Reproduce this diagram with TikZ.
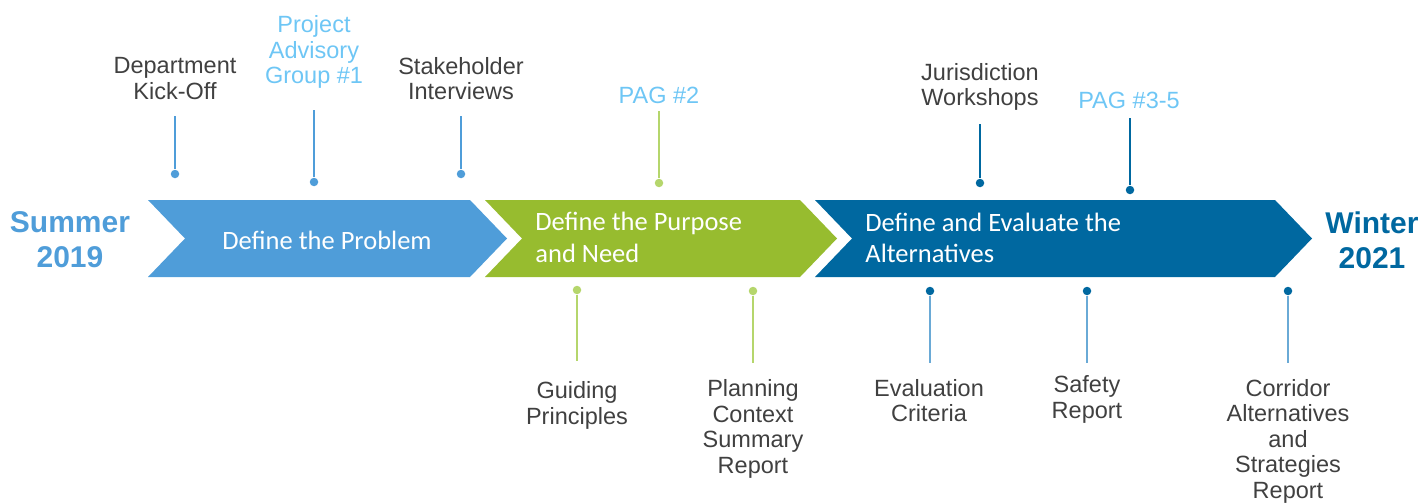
\documentclass[tikz,border=0pt]{standalone}
\usepackage{fontspec}
\setmainfont{Liberation Sans}
\newfontfamily\chevfont{Carlito}
\usepackage{tikz}
\usetikzlibrary{calc}
\usetikzlibrary{positioning}

\definecolor{probblue}{HTML}{4F9DD9}
\definecolor{purpgreen}{HTML}{97BC2F}
\definecolor{altblue}{HTML}{0068A0}
\definecolor{paglight}{HTML}{6EC6F5}
\definecolor{labgray}{HTML}{404040}
\definecolor{stemgreen}{HTML}{B5D66C}
\definecolor{stemblue}{HTML}{6AAAD6}

\begin{document}
\begin{tikzpicture}[x=1pt,y=-1pt,thick]
      \tikzstyle{mstext}=[inner sep=0pt,align=center,text=labgray,font=\fontsize{23.5}{25.5}\selectfont]
      \tikzstyle{pagtext}=[mstext,text=paglight]
      \tikzstyle{chevtext}=[inner sep=0pt,text=white,font=\chevfont\fontsize{26.5}{31.5}\selectfont]
      \tikzstyle{season}=[inner sep=0pt,align=center,font=\bfseries\fontsize{30}{35}\selectfont]
      \tikzstyle{dot}=[circle,inner sep=0pt,minimum size=8.5pt]
      \tikzstyle{stem}=[line width=1.5pt]

      \useasboundingbox (0,0) rectangle (1424,503);

      % phases
      \fill[probblue] (148,200) -- (470,200) -- (507,238.5) -- (470,277) -- (148,277) -- (185,238.5) -- cycle;
      \fill[purpgreen] (485,200) -- (800,200) -- (837,238.5) -- (800,277) -- (485,277) -- (522,238.5) -- cycle;
      \fill[altblue] (815,200) -- (1275,200) -- (1312,238.5) -- (1275,277) -- (815,277) -- (852,238.5) -- cycle;

      \node[chevtext] (prob) at (327,240) {Define the Problem};
      \node[chevtext,align=left,anchor=west] (purp) at (535,237.5) {Define the Purpose\\and Need};
      \node[chevtext,align=left,anchor=west] (alt) at (865,238) {Define and Evaluate the\\Alternatives};

      \node[season,text=probblue] (start) at (70,239.5) {Summer\\2019};
      \node[season,text=altblue] (end) at (1372,240.5) {Winter\\2021};

      % milestones above
      \node[mstext] (dko) at (175,78.5) {Department\\Kick-Off};
      \node[pagtext] (pag1) at (314,52) {Project\\Advisory\\Group \#1};
      \node[mstext] (stk) at (461,78.5) {Stakeholder\\Interviews};
      \node[pagtext] (pag2) at (659,95) {PAG \#2};
      \node[mstext] (jur) at (980,87) {Jurisdiction\\Workshops};
      \node[pagtext] (pag3) at (1129,100) {PAG \#3-5};

      \coordinate (dkoT) at (175,116);
      \coordinate (pag1T) at (314,110);
      \coordinate (stkT) at (461,116);
      \coordinate (pag2T) at (659,111);
      \coordinate (jurT) at (980,124);
      \coordinate (pag3T) at (1130,118);

      \node[dot,fill=probblue] (dkoD) at (175,174) {};
      \node[dot,fill=probblue] (pag1D) at (314,182) {};
      \node[dot,fill=probblue] (stkD) at (461,174) {};
      \node[dot,fill=stemgreen] (pag2D) at (659,183) {};
      \node[dot,fill=altblue] (jurD) at (980,183) {};
      \node[dot,fill=altblue] (pag3D) at (1130,190) {};

      \draw[stem,probblue] (dkoT) -- (dkoD);
      \draw[stem,probblue] (pag1T) -- (pag1D);
      \draw[stem,probblue] (stkT) -- (stkD);
      \draw[stem,stemgreen] (pag2T) -- (pag2D);
      \draw[stem,altblue] (jurT) -- (jurD);
      \draw[stem,altblue] (pag3T) -- (pag3D);

      % milestones below
      \node[mstext] (gp) at (577,405.5) {Guiding\\Principles};
      \node[mstext] (pcs) at (753,429) {Planning\\Context\\Summary\\Report};
      \node[mstext] (ec) at (929,400.5) {Evaluation\\Criteria};
      \node[mstext] (sr) at (1087,399.5) {Safety\\Report};
      \node[mstext] (cas) at (1288,441) {Corridor\\Alternatives\\and\\Strategies\\Report};

      \node[dot,fill=stemgreen] (gpD) at (577,290) {};
      \node[dot,fill=stemgreen] (pcsD) at (753,291) {};
      \node[dot,fill=altblue] (ecD) at (930,291) {};
      \node[dot,fill=altblue] (srD) at (1087,291) {};
      \node[dot,fill=altblue] (casD) at (1288,291) {};

      \coordinate (gpB) at (577,361);
      \coordinate (pcsB) at (753,363);
      \coordinate (ecB) at (930,363);
      \coordinate (srB) at (1087,363);
      \coordinate (casB) at (1288,363);

      \draw[stem,stemgreen] (gpD) -- (gpB);
      \draw[stem,stemgreen] (pcsD) -- (pcsB);
      \draw[stem,stemblue] (ecD) -- (ecB);
      \draw[stem,stemblue] (srD) -- (srB);
      \draw[stem,stemblue] (casD) -- (casB);
    \end{tikzpicture}
\end{document}
